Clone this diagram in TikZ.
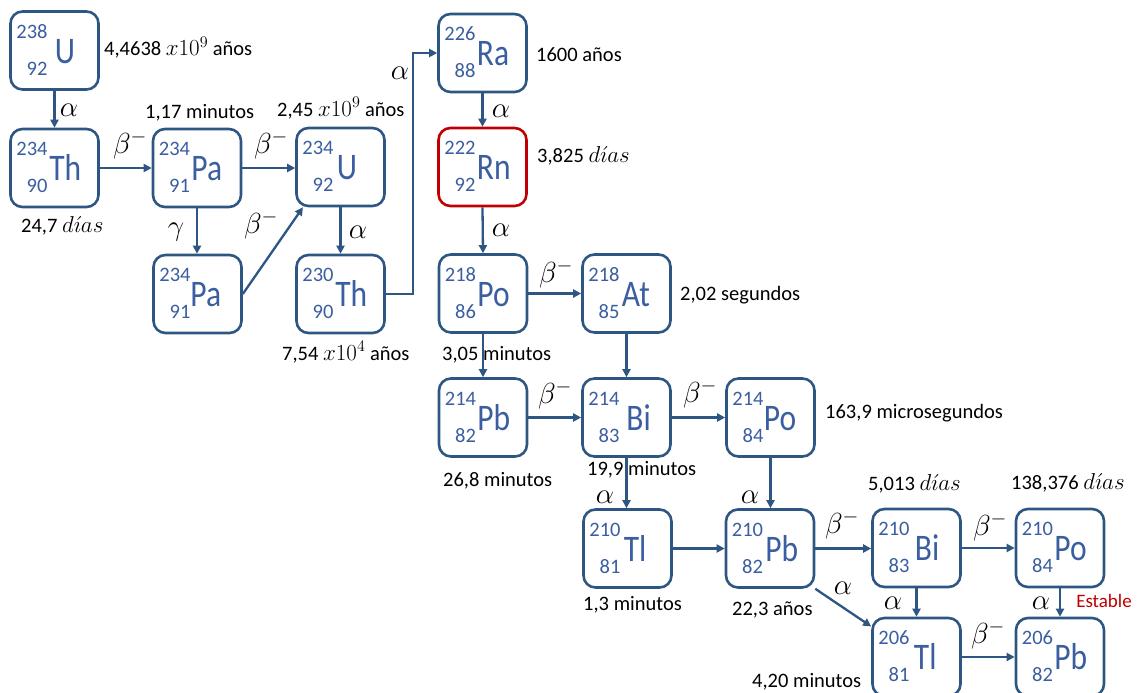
\RequirePackage{fix-cm}
\documentclass[tikz,border=0pt]{standalone}
\usepackage[no-math]{fontspec}
\setmainfont{Carlito}
\newfontfamily\symfont[FakeStretch=0.84]{Carlito}
\usetikzlibrary{arrows.meta}

\definecolor{boxblue}{RGB}{46,86,130}
\definecolor{symblue}{RGB}{58,94,160}
\definecolor{rnred}{RGB}{192,0,0}

\tikzset{
  nucbox/.style={draw=boxblue, line width=2.6pt, rounded corners=12pt,
    minimum width=88pt, minimum height=78pt, inner sep=0pt},
  massnum/.style={text=symblue, font=\fontsize{20.5}{22}\selectfont,
    anchor=base west, inner sep=0pt},
  atomnum/.style={text=symblue, font=\fontsize{20.5}{22}\selectfont,
    anchor=base east, inner sep=0pt},
  elsym/.style={text=symblue, font=\symfont\fontsize{37.5}{40}\selectfont,
    anchor=base west, inner sep=0pt},
  decay/.style={draw=boxblue, line width=2.3pt,
    -{Triangle[length=8pt,width=8pt]}},
  greek/.style={font=\fontsize{29}{30}\selectfont, inner sep=0pt},
  life/.style={font=\fontsize{20.5}{22}\selectfont, anchor=base west,
    inner sep=0pt},
  stable/.style={font=\fontsize{19}{20}\selectfont, text=rnred,
    inner sep=0pt},
}

% math pieces inside the half-life labels
\newcommand\mth[1]{{\fontsize{23}{24}\selectfont$#1$}}

% #1 name, #2,#3 centre, #4 mass number, #5 atomic number,
% #6 element symbol, #7 symbol offset, #8 frame colour
\newcommand\Nuc[8]{%
  \node[nucbox, draw=#8] (#1) at (#2,#3) {};
  \node[massnum] (#1-A) at ([shift={(7,28)}]#1.north west) {#4};
  \node[atomnum] (#1-Z) at ([shift={(38.5,65)}]#1.north west) {#5};
  \node[elsym] (#1-S) at ([shift={(#7,53)}]#1.north west) {#6};
}

\begin{document}
\begin{tikzpicture}[x=1pt, y=-1pt]
\useasboundingbox (0,0) rectangle (1138,693);
\fill[white] (0,0) rectangle (1138,693);
\clip (0,0) rectangle (1138,693);

% nuclides
\Nuc{U238}{54.5}{50.5}{238}{92}{U}{45.5}{boxblue}
\Nuc{Th234}{54.5}{168}{234}{90}{Th}{40}{boxblue}
\Nuc{Pa234}{197}{168}{234}{91}{Pa}{39.5}{boxblue}
\Nuc{U234}{340.5}{167}{234}{92}{U}{41.5}{boxblue}
\Nuc{Pa234b}{197.5}{294}{234}{91}{Pa}{38}{boxblue}
\Nuc{Th230}{340.5}{294}{230}{90}{Th}{40}{boxblue}
\Nuc{Ra226}{482.5}{53}{226}{88}{Ra}{39.5}{boxblue}
\Nuc{Rn222}{482.5}{167}{222}{92}{Rn}{39.5}{rnred}
\Nuc{Po218}{483}{293.5}{218}{86}{Po}{39.5}{boxblue}
\Nuc{At218}{626.5}{293.5}{218}{85}{At}{40.5}{boxblue}
\Nuc{Pb214}{483}{417.5}{214}{82}{Pb}{39.5}{boxblue}
\Nuc{Bi214}{626.5}{417.5}{214}{83}{Bi}{45}{boxblue}
\Nuc{Po214}{770.5}{417.5}{214}{84}{Po}{38.5}{boxblue}
\Nuc{Tl210}{627.5}{548.5}{210}{81}{Tl}{41.5}{boxblue}
\Nuc{Pb210}{770}{548.5}{210}{82}{Pb}{40.5}{boxblue}
\Nuc{Bi210}{916.5}{548}{210}{83}{Bi}{43.5}{boxblue}
\Nuc{Po210}{1060}{548}{210}{84}{Po}{39.5}{boxblue}
\Nuc{Tl206}{916.5}{657}{206}{81}{Tl}{42.5}{boxblue}
\Nuc{Pb206}{1060}{657}{206}{82}{Pb}{39.5}{boxblue}

% decays
\coordinate (raup) at (413,53);
\draw[decay] (U238.south) -- (Th234.north);
\draw[decay] (Th234.east) -- (Th234.east -| Pa234.west);
\draw[decay] (Pa234.east) -- (Pa234.east -| U234.west);
\draw[decay] (Pa234.south) -- (Pa234.south |- Pa234b.north);
\draw[decay] (Pa234b.east) -- (U234.227);
\draw[decay] (U234.south) -- (U234.south |- Th230.north);
\draw[decay] (Th230.east) -| (raup) -- (Ra226.west);
\draw[decay] (Ra226.south) -- (Rn222.north);
\draw[decay] (Rn222.south) -- (Po218.north);
\draw[decay] (Po218.east) -- (At218.west);
\draw[decay] (Po218.south) -- (Pb214.north);
\draw[decay] (At218.south) -- (Bi214.north);
\draw[decay] (Pb214.east) -- (Bi214.west);
\draw[decay] (Bi214.east) -- (Po214.west);
\draw[decay] (Bi214.south) -- (Bi214.south |- Tl210.north);
\draw[decay] (Po214.south) -- (Po214.south |- Pb210.north);
\draw[decay] (Tl210.east) -- (Tl210.east -| Pb210.west);
\draw[decay] (Pb210.east) -- (Pb210.east -| Bi210.west);
\draw[decay] (Pb210.south east) -- (Tl206.146);
\draw[decay] (Bi210.east) -- (Po210.west);
\draw[decay] (Bi210.south) -- (Tl206.north);
\draw[decay] (Po210.south) -- (Pb206.north);
\draw[decay] (Tl206.east) -- (Pb206.west);

% decay labels
\node[greek] (g1) at (69,110) {$\alpha$};
\node[greek] (g2) at (130,145) {$\beta^-$};
\node[greek] (g3) at (271,145) {$\beta^-$};
\node[greek] (g4) at (176,232) {$\gamma$};
\node[greek] (g5) at (261,225) {$\beta^-$};
\node[greek] (g6) at (358,232) {$\alpha$};
\node[greek] (g7) at (400,73) {$\alpha$};
\node[greek] (g8) at (501,111) {$\alpha$};
\node[greek] (g9) at (501,230) {$\alpha$};
\node[greek] (g10) at (556,274) {$\beta^-$};
\node[greek] (g11) at (555,395) {$\beta^-$};
\node[greek] (g12) at (700,394) {$\beta^-$};
\node[greek] (g13) at (605,497) {$\alpha$};
\node[greek] (g14) at (750,497) {$\alpha$};
\node[greek] (g15) at (842,525) {$\beta^-$};
\node[greek] (g16) at (843,588) {$\alpha$};
\node[greek] (g17) at (990,527) {$\beta^-$};
\node[greek] (g18) at (893,603) {$\alpha$};
\node[greek] (g19) at (1041,603) {$\alpha$};
\node[greek] (g20) at (988,635) {$\beta^-$};
\node[stable] (st) at (1104,601) {Estable};

% half-lives
\node[life] (t1) at (104,56) {4,4638 \mth{x10^9} años};
\node[life] (t2) at (145,118) {1,17 minutos};
\node[life] (t3) at (277,116) {2,45 \mth{x10^9} años};
\node[life] (t4) at (21,232) {24,7 \mth{d\acute{\imath}as}};
\node[life] (t5) at (282,360) {7,54 \mth{x10^4} años};
\node[life] (t6) at (536,62) {1600 años};
\node[life] (t7) at (537,162) {3,825 \mth{d\acute{\imath}as}};
\node[life] (t8) at (680,300) {2,02 segundos};
\node[life] (t9) at (442,360) {3,05 minutos};
\node[life] (t10) at (825,418) {163,9 microsegundos};
\node[life] (t11) at (443,486) {26,8 minutos};
\node[life] (t12) at (587,475) {19,9 minutos};
\node[life] (t13) at (583,610) {1,3 minutos};
\node[life] (t14) at (732,615) {22,3 años};
\node[life] (t15) at (752,687) {4,20 minutos};
\node[life] (t16) at (868,490) {5,013 \mth{d\acute{\imath}as}};
\node[life] (t17) at (1011,489) {138,376 \mth{d\acute{\imath}as}};
\end{tikzpicture}
\end{document}
